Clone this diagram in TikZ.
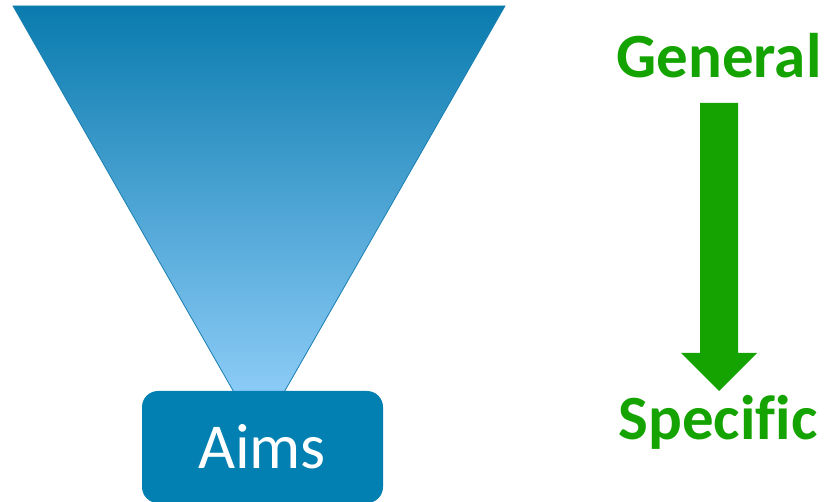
\documentclass[tikz,border=0pt]{standalone}
\usepackage{fontspec}
\setmainfont{Carlito}[Ligatures=NoCommon]
\definecolor{funtop}{HTML}{0A7BAE}
\definecolor{funbot}{HTML}{9AD4FF}
\definecolor{funedge}{HTML}{1A7FB0}
\definecolor{boxblue}{HTML}{0180B1}
\definecolor{arrgreen}{HTML}{14A300}
\tikzset{
  lbl/.style={font=\fontsize{63}{63}\selectfont\bfseries, text=arrgreen, inner sep=0pt, anchor=base},
  aimsbox/.style={fill=boxblue, draw=none, rounded corners=16pt, minimum width=241pt, minimum height=112pt, inner sep=0pt}
}
\begin{document}
\begin{tikzpicture}[x=1pt,y=-1pt]
\useasboundingbox (0,0) rectangle (825,502);
\shade[top color=funtop, bottom color=funbot, draw=funedge, line width=0.8pt]
  (13,6) -- (505,6) -- (259,436) -- cycle;
\node[aimsbox] (aims) at (262.5,447) {};
\node[text=white, font=\fontsize{64}{64}\selectfont, inner sep=0pt, anchor=base] (aimstext) at (262,469) {Aims};
\node[lbl] (gen) at (719,78) {General};
\node[lbl] (spec) at (718,440) {Speci\hbox{f}ic};
\fill[arrgreen] (700,103) -- (738,103) -- (738,353) -- (757,353) -- (719,391) -- (681,353) -- (700,353) -- cycle;
\end{tikzpicture}
\end{document}
